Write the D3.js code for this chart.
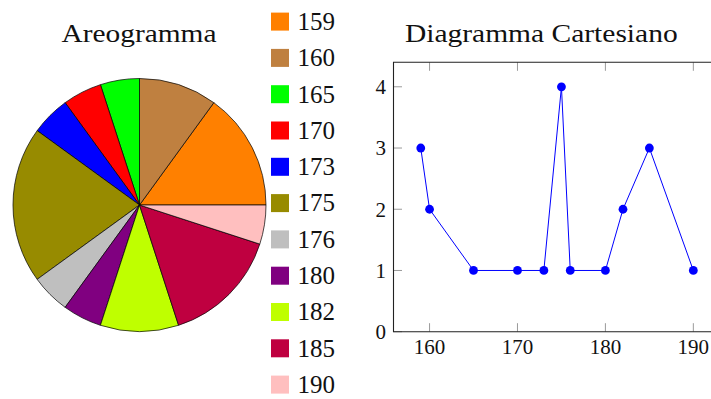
<!DOCTYPE html>
<html><head><meta charset="utf-8">
<script src="https://cdn.jsdelivr.net/npm/d3@7"></script>
<style>body{margin:0;background:#fff}svg{display:block}text{font-family:"Liberation Serif","Times New Roman",serif;fill:#111}</style>
</head><body><svg id="c" width="711" height="399"></svg>
<script>
const categories = [159,160,165,170,173,175,176,180,182,185,190];
const counts = [3,2,1,1,1,4,1,1,2,3,1];
const sliceColors = ["#ff8000","#bf8040","#00ff00","#ff0000","#0000ff","#978b00","#bfbfbf","#800080","#bfff00","#bf0040","#ffbfbf"];
const xTicks = [160,170,180,190];
const yTicks = [0,1,2,3,4];
const pieTitle = "Areogramma";
const lineTitle = "Diagramma Cartesiano";

const svg = d3.select("#c");

// ---- Pie ----
const cx = 139.5, cy = 205, R = 126.5;
const pie = d3.pie().sort(null).value(d => d).startAngle(Math.PI/2).endAngle(Math.PI/2 - 2*Math.PI);
const arc = d3.arc().innerRadius(0).outerRadius(R);
const gp = svg.append("g").attr("transform", `translate(${cx},${cy})`);
gp.selectAll("path").data(pie(counts)).join("path")
  .attr("d", arc).attr("fill", (d,i) => sliceColors[i])
  .attr("stroke", "#000").attr("stroke-width", 0.7).attr("stroke-linejoin","round");

svg.append("text").attr("x", 139).attr("y", 41.5).attr("text-anchor","middle")
  .attr("font-size", 25).attr("textLength", 155).attr("lengthAdjust","spacingAndGlyphs").text(pieTitle);

// legend
const lg = svg.append("g");
categories.forEach((c,i) => {
  const y0 = 12.6 + i*36.3;
  lg.append("rect").attr("x",271).attr("y",y0).attr("width",18).attr("height",18).attr("fill",sliceColors[i]);
  lg.append("text").attr("x",297.5).attr("y",y0+17.3).attr("font-size",25).text(c);
});

// ---- Line chart ----
const x = d3.scaleLinear().domain([155.9,193.1]).range([393.5,720.6]);
const y = d3.scaleLinear().domain([0,4.4]).range([331.7,62.3]);
const gl = svg.append("g");

// ticks (inward)
const tickLen = 8.5;
gl.selectAll(".tb").data(xTicks).join("line")
  .attr("x1", d=>x(d)).attr("x2", d=>x(d)).attr("y1", y(0)).attr("y2", y(0)-tickLen)
  .attr("stroke","#808080").attr("stroke-width",0.8);
gl.selectAll(".tt").data(xTicks).join("line")
  .attr("x1", d=>x(d)).attr("x2", d=>x(d)).attr("y1", y(4.4)).attr("y2", y(4.4)+tickLen)
  .attr("stroke","#808080").attr("stroke-width",0.8);
gl.selectAll(".tl").data(yTicks).join("line")
  .attr("x1", x(155.9)).attr("x2", x(155.9)+tickLen).attr("y1", d=>y(d)).attr("y2", d=>y(d))
  .attr("stroke","#808080").attr("stroke-width",0.8);

// axis lines
const xl = x(155.9), xr = x(193.1), yt = y(4.4), yb = y(0);
gl.append("path").attr("d", `M${xr},${yt}H${xl}V${yb}H${xr}`)
  .attr("fill","none").attr("stroke","#222").attr("stroke-width",1.1);

// tick labels
gl.selectAll(".xl").data(xTicks).join("text")
  .attr("x", d=>x(d)).attr("y", 354.3).attr("text-anchor","middle").attr("font-size",21).text(d=>d);
gl.selectAll(".yl").data(yTicks).join("text")
  .attr("x", 386).attr("y", d=>y(d)+7.3).attr("text-anchor","end").attr("font-size",21).text(d=>d);

// line + markers
const line = d3.line().x((d,i)=>x(categories[i])).y(d=>y(d));
gl.append("path").attr("d", line(counts)).attr("fill","none").attr("stroke","#0000ff").attr("stroke-width",1);
gl.selectAll("circle").data(counts).join("circle")
  .attr("cx",(d,i)=>x(categories[i])).attr("cy",d=>y(d)).attr("r",4.4).attr("fill","#0000ff");

svg.append("text").attr("x", 541.3).attr("y", 41.5).attr("text-anchor","middle")
  .attr("font-size", 25).attr("textLength", 272.7).attr("lengthAdjust","spacingAndGlyphs").text(lineTitle);
</script></body></html>
